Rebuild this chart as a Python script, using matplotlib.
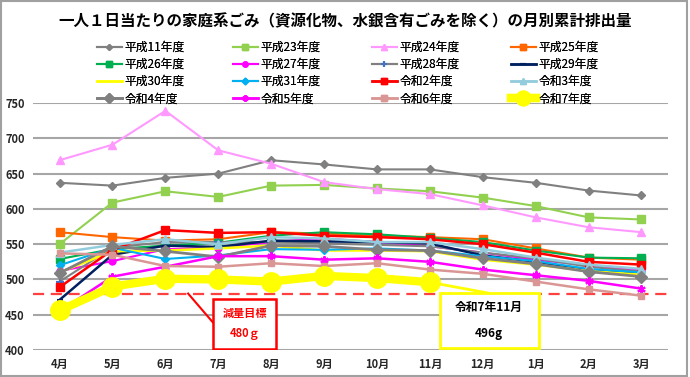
import matplotlib
matplotlib.use("Agg")
from matplotlib import pyplot as plt
from matplotlib.patches import Rectangle
import numpy as np

plt.rcParams['font.family'] = ['Noto Sans CJK JP', 'DejaVu Sans']

months = ["4月", "5月", "6月", "7月", "8月", "9月", "10月", "11月", "12月", "1月", "2月", "3月"]

h11 = [637, 633, 644, 650, 669, 663, 656, 656, 645, 637, 626, 619]
h23 = [550, 609, 625, 617, 633, 634, 629, 625, 616, 604, 588, 585]
h24 = [669, 691, 739, 683, 664, 638, 628, 621, 605, 588, 574, 567]
h25 = [567, 560, 555, 557, 567, 565, 562, 560, 557, 544, 531, 528]
h26 = [529, 543, 548, 552, 562, 567, 564, 559, 553, 541, 531, 530]
h27 = [512, 526, 543, 545, 553, 558, 553, 547, 538, 528, 520, 513]
h28 = [497, 545, 553, 553, 553, 551, 549, 547, 538, 530, 518, 511]
h29 = [471, 535, 548, 546, 555, 554, 553, 551, 534, 525, 513, 509]
h30 = [510, 540, 541, 544, 548, 541, 541, 540, 528, 521, 512, 507]
h31 = [520, 545, 529, 534, 543, 542, 544, 541, 533, 526, 515, 510]
r2 = [489, 542, 570, 566, 567, 562, 560, 557, 550, 538, 525, 521]
r3 = [538, 549, 557, 550, 560, 558, 553, 553, 543, 531, 521, 515]
r4 = [509, 547, 540, 532, 548, 547, 542, 541, 530, 522, 511, 504]
r5 = [455, 504, 518, 533, 533, 528, 530, 525, 514, 506, 498, 487]
r6 = [537, 535, 519, 518, 523, 519, 523, 514, 508, 497, 486, 477]
r7 = [456, 490, 501, 500, 497, 505, 502, 496]

target = 480

# label, data, color, marker, markersize, linewidth, marker color
series = [
    ("平成11年度", h11, "#808080", "D", 4, 1.5, None),
    ("平成23年度", h23, "#92d050", "s", 5.5, 1.5, None),
    ("平成24年度", h24, "#ff99ff", "^", 6, 1.5, None),
    ("平成25年度", h25, "#ff6600", "s", 5.5, 1.5, None),
    ("平成26年度", h26, "#00b050", "s", 5.5, 1.5, None),
    ("平成27年度", h27, "#ff00ff", "o", 5, 1.5, None),
    ("平成28年度", h28, "#808080", "+", 6, 1.5, "#4472c4"),
    ("平成29年度", h29, "#002060", "_", 5, 1.8, None),
    ("平成30年度", h30, "#ffff00", None, 0, 1.8, None),
    ("平成31年度", h31, "#00b0f0", "D", 4.5, 1.5, None),
    ("令和2年度", r2, "#ff0000", "s", 6, 1.8, None),
    ("令和3年度", r3, "#93cddd", "^", 6, 1.8, None),
    ("令和4年度", r4, "#808080", "D", 6.5, 2.0, None),
    ("令和5年度", r5, "#ff00ff", (6, 2, 0), 6, 1.8, None),
    ("令和6年度", r6, "#da9694", "s", 5, 1.8, None),
    ("令和7年度", r7, "#ffff00", "o", 14, 6.0, None),
]

fig = plt.figure(figsize=(6.9, 3.77), dpi=100)
ax = fig.add_axes([0.048, 0.0716, 0.92, 0.655])

x = np.arange(len(months))
handles = []
for i, (lab, vals, col, mk, ms, lw, mc) in enumerate(series):
    mcol = mc if mc else col
    h, = ax.plot(x[:len(vals)], vals, color=col, marker=mk, markersize=ms,
                 linewidth=lw, markerfacecolor=mcol, markeredgecolor=mcol,
                 markeredgewidth=1.5 if mk in ("+", "_", (6, 2, 0)) else 1,
                 label=lab, zorder=3 + i * 0.1)
    handles.append(h)

ax.axhline(target, color="#ff4040", linestyle=(0, (5, 3)), linewidth=1.6, zorder=2.5)

ax.set_xlim(-0.5, 11.5)
ax.set_ylim(400, 750)
ax.set_yticks(np.arange(400, 751, 50))
ax.set_xticks(x)
ax.set_xticklabels(months)
ax.grid(axis="y", color="#a6a6a6", linewidth=1.5)
ax.set_axisbelow(True)
for s in ax.spines.values():
    s.set_visible(False)
ax.tick_params(length=0, labelsize=8, pad=6)
for t in ax.get_yticklabels() + ax.get_xticklabels():
    t.set_fontweight("bold")
    t.set_color("#262626")

# 減量目標 box
ax.plot([2.43, 2.9], [target, 439], color="#ff0000", linewidth=1.5, zorder=6)
ax.add_patch(Rectangle((2.9, 401), 1.19, 72, facecolor="white", edgecolor="#ff0000",
                       linewidth=1.8, zorder=6))
ax.text(3.5, 452, "減量目標", color="#ff0000", fontsize=8, fontweight="bold",
        ha="center", va="center", zorder=7)
ax.text(3.5, 424, "480ｇ", color="#ff0000", fontsize=8, fontweight="bold",
        ha="center", va="center", zorder=7)

# 令和7年11月 box
ax.plot([7.0, 8.08], [r7[-1], 481], color="#ffff00", linewidth=2, zorder=6)
ax.add_patch(Rectangle((7.19, 403), 1.87, 78, facecolor="white", edgecolor="#ffff00",
                       linewidth=2, zorder=6))
ax.text(8.12, 461, "令和7年11月", color="black", fontsize=8.5, fontweight="bold",
        ha="center", va="center", zorder=7)
ax.text(8.12, 424, f"{r7[-1]}g", color="black", fontsize=8.5, fontweight="bold",
        ha="center", va="center", zorder=7)

fig.text(0.5, 0.944, "一人１日当たりの家庭系ごみ（資源化物、水銀含有ごみを除く）の月別累計排出量",
         ha="center", va="center", fontsize=11.2, fontweight="bold")

# legend: one column each, row-major order like the original
col_left = [97, 233, 372, 511]
for c, xl in enumerate(col_left):
    idx = [c, c + 4, c + 8, c + 12]
    leg = fig.legend([handles[i] for i in idx], [series[i][0] for i in idx],
                     loc="upper left", bbox_to_anchor=(xl / 690, 0.892), frameon=False,
                     fontsize=8.5, handlelength=2.1, labelspacing=0.36,
                     handletextpad=0.2, borderaxespad=0, borderpad=0, markerscale=0.75)
    fig.add_artist(leg)

fig.add_artist(Rectangle((0.002, 0.003), 0.994, 0.994, transform=fig.transFigure,
                         fill=False, edgecolor="#a0a0a0", linewidth=1.5))

fig.savefig("out.png", dpi=100)
